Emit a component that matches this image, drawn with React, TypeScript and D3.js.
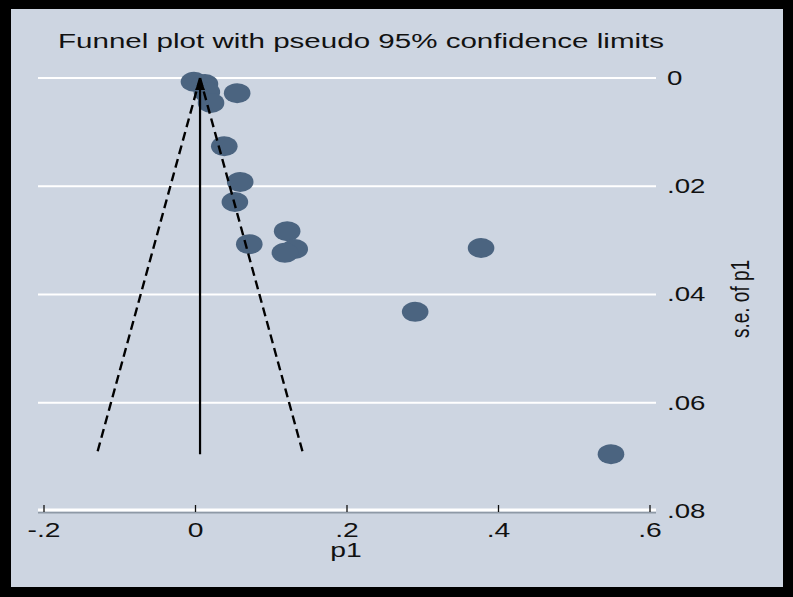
import * as d3 from "d3";

// study estimates (p1) and their standard errors
const p1 = [-0.002, 0.0125, 0.015, 0.0205, 0.055, 0.038, 0.059, 0.052, 0.071, 0.121, 0.131, 0.118, 0.377, 0.29, 0.5485];
const se = [0.0007, 0.0011, 0.0026, 0.0046, 0.0028, 0.0126, 0.0192, 0.0229, 0.0307, 0.0283, 0.0316, 0.0323, 0.0314, 0.0432, 0.0695];
const pooled = 0.006;

const xTicks = [-0.2, 0, 0.2, 0.4, 0.6];
const yTicks = [0, 0.02, 0.04, 0.06, 0.08];

// stata style: drop leading zero
const fmt = (v: number) => (v === 0 ? "0" : String(+v.toFixed(2)).replace("0.", "."));

export default function App() {
  const width = 793;
  const height = 597;

  const x = d3.scaleLinear().domain([-0.2, 0.6]).range([44, 650]);
  const y = d3.scaleLinear().domain([0, 0.08]).range([78, 511]);

  const seMax = d3.max(se) as number;
  const z = 1.96;
  const line = d3
    .line<[number, number]>()
    .x((d) => x(d[0]))
    .y((d) => y(d[1]));

  const leftLimit: [number, number][] = [
    [pooled, 0],
    [pooled - z * seMax, seMax],
  ];
  const rightLimit: [number, number][] = [
    [pooled, 0],
    [pooled + z * seMax, seMax],
  ];

  const font = "'Liberation Sans', Arial, sans-serif";
  const gx0 = 38;
  const gx1 = 656;
  const ax = x(pooled);
  const ay = y(0);

  return (
    <svg
      width={width}
      height={height}
      style={{ position: "absolute", left: 0, top: 0, display: "block" }}
      fontFamily={font}
    >
      <rect x={0} y={0} width={width} height={height} fill="#000" />
      <rect x={11} y={9} width={772} height={578} fill="#cdd5e1" />

      {/* title */}
      <text transform="translate(58,48) scale(1.5,1)" fontSize={19.7} fill="#111">
        Funnel plot with pseudo 95% confidence limits
      </text>

      {/* gridlines */}
      {yTicks.slice(0, -1).map((t) => (
        <line key={t} x1={gx0} x2={gx1} y1={y(t)} y2={y(t)} stroke="#fff" strokeWidth={2} />
      ))}

      {/* x axis */}
      <line x1={gx0} x2={gx1} y1={y(0.08) + 1.5} y2={y(0.08) + 1.5} stroke="#8e99a6" strokeWidth={2} />
      <line x1={gx0} x2={gx1} y1={y(0.08) - 1} y2={y(0.08) - 1} stroke="#fff" strokeWidth={3} />
      {xTicks.map((t) => (
        <g key={t}>
          <line x1={x(t)} x2={x(t)} y1={y(0.08) - 6} y2={y(0.08) + 1} stroke="#111" strokeWidth={1.3} />
          <text
            transform={`translate(${x(t)},537) scale(1.45,1)`}
            textAnchor="middle"
            fontSize={19.5}
            fill="#111"
          >
            {fmt(t)}
          </text>
        </g>
      ))}
      <text transform="translate(346,557) scale(1.45,1)" textAnchor="middle" fontSize={19.5} fill="#111">
        p1
      </text>

      {/* y axis labels (right) */}
      {yTicks.map((t) => (
        <text
          key={t}
          transform={`translate(667,${y(t)}) scale(1.42,1)`}
          dominantBaseline="central"
          fontSize={19.5}
          fill="#111"
        >
          {fmt(t)}
        </text>
      ))}
      <text
        transform="translate(749,299) scale(1.4,1) rotate(-90)"
        textAnchor="middle"
        fontSize={19}
        fill="#111"
      >
        s.e. of p1
      </text>

      {/* points */}
      {p1.map((v, i) => (
        <ellipse key={i} cx={x(v)} cy={y(se[i])} rx={13.3} ry={10} fill="#4b6480" />
      ))}

      {/* pseudo 95% limits */}
      <path d={line(leftLimit) ?? ""} fill="none" stroke="#000" strokeWidth={2.4} strokeDasharray="9,5" />
      <path d={line(rightLimit) ?? ""} fill="none" stroke="#000" strokeWidth={2.4} strokeDasharray="9,5" />

      {/* pooled estimate */}
      <line x1={ax} x2={ax} y1={y(seMax)} y2={ay + 8} stroke="#000" strokeWidth={2.2} />
      <path d={`M${ax},${ay} L${ax - 5},${ay + 12} L${ax + 5},${ay + 12} Z`} fill="#000" />
    </svg>
  );
}
